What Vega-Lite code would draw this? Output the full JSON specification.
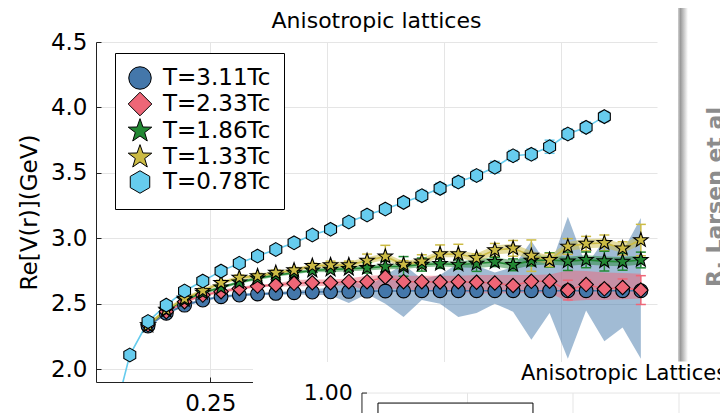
{
  "$schema": "https://vega.github.io/schema/vega-lite/v6.json",
  "width": 561,
  "height": 340,
  "autosize": {"type": "none"},
  "padding": {"left": 96, "top": 42, "right": 63, "bottom": 31},
  "background": "white",
  "config": {
    "view": {"stroke": null},
    "font": "DejaVu Sans",
    "axisX": {"labelFontSize": 23, "labelFont": "DejaVu Sans", "labelColor": "#000", "domainColor": "#222", "tickColor": "#222", "tickSize": -5, "labelPadding": 15, "gridColor": "#e5e5e5", "labelFlush": false},
    "axisY": {"labelFontSize": 23, "labelFont": "DejaVu Sans", "labelColor": "#000", "domainColor": "#222", "tickColor": "#222", "tickSize": -5, "labelPadding": 14, "gridColor": "#e5e5e5", "titleFontSize": 23, "titleFont": "DejaVu Sans", "titleFontWeight": "normal", "titleColor": "#000", "titlePadding": 9},
    "legend": {"labelFontSize": 23, "labelFont": "DejaVu Sans", "labelColor": "#000", "labelOffset": 11, "padding": 13, "rowPadding": -2, "strokeColor": "#000", "fillColor": "white", "cornerRadius": 0, "symbolSize": 506, "symbolStrokeColor": "#000", "symbolStrokeWidth": 1, "symbolOpacity": 1}
  },
  "datasets": {
    "d": [
      {"s":"T=3.11Tc","r":0.117,"v":2.33,"lo":2.32,"hi":2.34,"el":2.32,"eh":2.34},
      {"s":"T=3.11Tc","r":0.156,"v":2.428,"lo":2.418,"hi":2.438,"el":2.418,"eh":2.438},
      {"s":"T=3.11Tc","r":0.195,"v":2.49,"lo":2.48,"hi":2.5,"el":2.48,"eh":2.5},
      {"s":"T=3.11Tc","r":0.234,"v":2.529,"lo":2.519,"hi":2.539,"el":2.519,"eh":2.539},
      {"s":"T=3.11Tc","r":0.273,"v":2.554,"lo":2.544,"hi":2.564,"el":2.544,"eh":2.564},
      {"s":"T=3.11Tc","r":0.312,"v":2.567,"lo":2.557,"hi":2.577,"el":2.557,"eh":2.577},
      {"s":"T=3.11Tc","r":0.351,"v":2.575,"lo":2.565,"hi":2.585,"el":2.565,"eh":2.585},
      {"s":"T=3.11Tc","r":0.39,"v":2.58,"lo":2.57,"hi":2.59,"el":2.57,"eh":2.59},
      {"s":"T=3.11Tc","r":0.429,"v":2.585,"lo":2.57,"hi":2.6,"el":2.575,"eh":2.595},
      {"s":"T=3.11Tc","r":0.468,"v":2.59,"lo":2.57,"hi":2.61,"el":2.58,"eh":2.6},
      {"s":"T=3.11Tc","r":0.507,"v":2.592,"lo":2.565,"hi":2.625,"el":2.582,"eh":2.602},
      {"s":"T=3.11Tc","r":0.546,"v":2.595,"lo":2.506,"hi":2.69,"el":2.585,"eh":2.605},
      {"s":"T=3.11Tc","r":0.585,"v":2.597,"lo":2.575,"hi":2.625,"el":2.587,"eh":2.607},
      {"s":"T=3.11Tc","r":0.624,"v":2.598,"lo":2.5,"hi":2.72,"el":2.588,"eh":2.608},
      {"s":"T=3.11Tc","r":0.663,"v":2.598,"lo":2.4,"hi":2.8,"el":2.588,"eh":2.608},
      {"s":"T=3.11Tc","r":0.702,"v":2.6,"lo":2.53,"hi":2.69,"el":2.59,"eh":2.61},
      {"s":"T=3.11Tc","r":0.741,"v":2.6,"lo":2.5,"hi":2.72,"el":2.59,"eh":2.61},
      {"s":"T=3.11Tc","r":0.78,"v":2.6,"lo":2.4,"hi":2.81,"el":2.59,"eh":2.61},
      {"s":"T=3.11Tc","r":0.819,"v":2.6,"lo":2.43,"hi":2.79,"el":2.59,"eh":2.61},
      {"s":"T=3.11Tc","r":0.858,"v":2.6,"lo":2.5,"hi":2.74,"el":2.59,"eh":2.61},
      {"s":"T=3.11Tc","r":0.897,"v":2.6,"lo":2.44,"hi":2.78,"el":2.59,"eh":2.61},
      {"s":"T=3.11Tc","r":0.936,"v":2.6,"lo":2.225,"hi":2.98,"el":2.59,"eh":2.61},
      {"s":"T=3.11Tc","r":0.975,"v":2.6,"lo":2.43,"hi":2.77,"el":2.59,"eh":2.61},
      {"s":"T=3.11Tc","r":1.014,"v":2.6,"lo":2.08,"hi":3.165,"el":2.59,"eh":2.61},
      {"s":"T=3.11Tc","r":1.053,"v":2.6,"lo":2.45,"hi":2.79,"el":2.59,"eh":2.61},
      {"s":"T=3.11Tc","r":1.092,"v":2.6,"lo":2.215,"hi":2.99,"el":2.59,"eh":2.61},
      {"s":"T=3.11Tc","r":1.131,"v":2.6,"lo":2.32,"hi":2.9,"el":2.59,"eh":2.61},
      {"s":"T=3.11Tc","r":1.17,"v":2.6,"lo":2.08,"hi":3.155,"el":2.59,"eh":2.61},

      {"s":"T=2.33Tc","r":0.117,"v":2.34,"lo":2.33,"hi":2.35,"el":2.328,"eh":2.352},
      {"s":"T=2.33Tc","r":0.156,"v":2.44,"lo":2.428,"hi":2.452,"el":2.428,"eh":2.452},
      {"s":"T=2.33Tc","r":0.195,"v":2.516,"lo":2.504,"hi":2.528,"el":2.504,"eh":2.528},
      {"s":"T=2.33Tc","r":0.234,"v":2.567,"lo":2.555,"hi":2.579,"el":2.555,"eh":2.579},
      {"s":"T=2.33Tc","r":0.273,"v":2.593,"lo":2.581,"hi":2.605,"el":2.581,"eh":2.605},
      {"s":"T=2.33Tc","r":0.312,"v":2.618,"lo":2.606,"hi":2.63,"el":2.606,"eh":2.63},
      {"s":"T=2.33Tc","r":0.351,"v":2.636,"lo":2.624,"hi":2.648,"el":2.624,"eh":2.648},
      {"s":"T=2.33Tc","r":0.39,"v":2.644,"lo":2.632,"hi":2.656,"el":2.632,"eh":2.656},
      {"s":"T=2.33Tc","r":0.429,"v":2.657,"lo":2.632,"hi":2.682,"el":2.645,"eh":2.669},
      {"s":"T=2.33Tc","r":0.468,"v":2.661,"lo":2.636,"hi":2.686,"el":2.649,"eh":2.673},
      {"s":"T=2.33Tc","r":0.507,"v":2.661,"lo":2.636,"hi":2.686,"el":2.649,"eh":2.673},
      {"s":"T=2.33Tc","r":0.546,"v":2.669,"lo":2.644,"hi":2.694,"el":2.657,"eh":2.681},
      {"s":"T=2.33Tc","r":0.585,"v":2.669,"lo":2.6,"hi":2.715,"el":2.657,"eh":2.681},
      {"s":"T=2.33Tc","r":0.624,"v":2.705,"lo":2.62,"hi":2.72,"el":2.693,"eh":2.717},
      {"s":"T=2.33Tc","r":0.663,"v":2.669,"lo":2.61,"hi":2.715,"el":2.657,"eh":2.681},
      {"s":"T=2.33Tc","r":0.702,"v":2.669,"lo":2.6,"hi":2.715,"el":2.657,"eh":2.681},
      {"s":"T=2.33Tc","r":0.741,"v":2.667,"lo":2.6,"hi":2.715,"el":2.655,"eh":2.679},
      {"s":"T=2.33Tc","r":0.78,"v":2.669,"lo":2.59,"hi":2.715,"el":2.657,"eh":2.681},
      {"s":"T=2.33Tc","r":0.819,"v":2.665,"lo":2.58,"hi":2.72,"el":2.653,"eh":2.677},
      {"s":"T=2.33Tc","r":0.858,"v":2.659,"lo":2.58,"hi":2.72,"el":2.647,"eh":2.671},
      {"s":"T=2.33Tc","r":0.897,"v":2.64,"lo":2.58,"hi":2.72,"el":2.625,"eh":2.655},
      {"s":"T=2.33Tc","r":0.936,"v":2.672,"lo":2.585,"hi":2.72,"el":2.657,"eh":2.687},
      {"s":"T=2.33Tc","r":0.975,"v":2.673,"lo":2.58,"hi":2.725,"el":2.658,"eh":2.688},
      {"s":"T=2.33Tc","r":1.014,"v":2.605,"lo":2.52,"hi":2.755,"el":2.53,"eh":2.68},
      {"s":"T=2.33Tc","r":1.053,"v":2.647,"lo":2.53,"hi":2.75,"el":2.612,"eh":2.682},
      {"s":"T=2.33Tc","r":1.092,"v":2.615,"lo":2.53,"hi":2.74,"el":2.58,"eh":2.65},
      {"s":"T=2.33Tc","r":1.131,"v":2.625,"lo":2.535,"hi":2.735,"el":2.56,"eh":2.69},
      {"s":"T=2.33Tc","r":1.17,"v":2.605,"lo":2.54,"hi":2.73,"el":2.495,"eh":2.715},

      {"s":"T=1.86Tc","r":0.117,"v":2.335,"lo":2.323,"hi":2.347,"el":2.32,"eh":2.35},
      {"s":"T=1.86Tc","r":0.156,"v":2.45,"lo":2.438,"hi":2.462,"el":2.435,"eh":2.465},
      {"s":"T=1.86Tc","r":0.195,"v":2.53,"lo":2.518,"hi":2.542,"el":2.515,"eh":2.545},
      {"s":"T=1.86Tc","r":0.234,"v":2.585,"lo":2.573,"hi":2.597,"el":2.57,"eh":2.6},
      {"s":"T=1.86Tc","r":0.273,"v":2.625,"lo":2.613,"hi":2.637,"el":2.61,"eh":2.64},
      {"s":"T=1.86Tc","r":0.312,"v":2.665,"lo":2.653,"hi":2.677,"el":2.65,"eh":2.68},
      {"s":"T=1.86Tc","r":0.351,"v":2.695,"lo":2.683,"hi":2.707,"el":2.68,"eh":2.71},
      {"s":"T=1.86Tc","r":0.39,"v":2.718,"lo":2.706,"hi":2.73,"el":2.703,"eh":2.733},
      {"s":"T=1.86Tc","r":0.429,"v":2.738,"lo":2.726,"hi":2.75,"el":2.723,"eh":2.753},
      {"s":"T=1.86Tc","r":0.468,"v":2.755,"lo":2.743,"hi":2.767,"el":2.74,"eh":2.77},
      {"s":"T=1.86Tc","r":0.507,"v":2.762,"lo":2.742,"hi":2.782,"el":2.747,"eh":2.777},
      {"s":"T=1.86Tc","r":0.546,"v":2.768,"lo":2.748,"hi":2.788,"el":2.753,"eh":2.783},
      {"s":"T=1.86Tc","r":0.585,"v":2.775,"lo":2.755,"hi":2.795,"el":2.735,"eh":2.815},
      {"s":"T=1.86Tc","r":0.624,"v":2.785,"lo":2.765,"hi":2.805,"el":2.745,"eh":2.825},
      {"s":"T=1.86Tc","r":0.663,"v":2.786,"lo":2.766,"hi":2.806,"el":2.711,"eh":2.861},
      {"s":"T=1.86Tc","r":0.702,"v":2.8,"lo":2.78,"hi":2.82,"el":2.75,"eh":2.85},
      {"s":"T=1.86Tc","r":0.741,"v":2.806,"lo":2.786,"hi":2.826,"el":2.771,"eh":2.841},
      {"s":"T=1.86Tc","r":0.78,"v":2.8,"lo":2.78,"hi":2.82,"el":2.765,"eh":2.835},
      {"s":"T=1.86Tc","r":0.819,"v":2.808,"lo":2.773,"hi":2.843,"el":2.748,"eh":2.868},
      {"s":"T=1.86Tc","r":0.858,"v":2.82,"lo":2.785,"hi":2.855,"el":2.785,"eh":2.855},
      {"s":"T=1.86Tc","r":0.897,"v":2.798,"lo":2.763,"hi":2.833,"el":2.753,"eh":2.843},
      {"s":"T=1.86Tc","r":0.936,"v":2.83,"lo":2.795,"hi":2.865,"el":2.79,"eh":2.87},
      {"s":"T=1.86Tc","r":0.975,"v":2.835,"lo":2.8,"hi":2.87,"el":2.78,"eh":2.89},
      {"s":"T=1.86Tc","r":1.014,"v":2.825,"lo":2.79,"hi":2.86,"el":2.755,"eh":2.895},
      {"s":"T=1.86Tc","r":1.053,"v":2.836,"lo":2.801,"hi":2.871,"el":2.776,"eh":2.896},
      {"s":"T=1.86Tc","r":1.092,"v":2.826,"lo":2.791,"hi":2.861,"el":2.751,"eh":2.901},
      {"s":"T=1.86Tc","r":1.131,"v":2.822,"lo":2.787,"hi":2.857,"el":2.757,"eh":2.887},
      {"s":"T=1.86Tc","r":1.17,"v":2.835,"lo":2.8,"hi":2.87,"el":2.775,"eh":2.895},

      {"s":"T=1.33Tc","r":0.117,"v":2.338,"lo":2.323,"hi":2.353,"el":2.318,"eh":2.358},
      {"s":"T=1.33Tc","r":0.156,"v":2.455,"lo":2.44,"hi":2.47,"el":2.435,"eh":2.475},
      {"s":"T=1.33Tc","r":0.195,"v":2.54,"lo":2.525,"hi":2.555,"el":2.52,"eh":2.56},
      {"s":"T=1.33Tc","r":0.234,"v":2.6,"lo":2.585,"hi":2.615,"el":2.58,"eh":2.62},
      {"s":"T=1.33Tc","r":0.273,"v":2.66,"lo":2.645,"hi":2.675,"el":2.64,"eh":2.68},
      {"s":"T=1.33Tc","r":0.312,"v":2.7,"lo":2.685,"hi":2.715,"el":2.68,"eh":2.72},
      {"s":"T=1.33Tc","r":0.351,"v":2.712,"lo":2.697,"hi":2.727,"el":2.692,"eh":2.732},
      {"s":"T=1.33Tc","r":0.39,"v":2.738,"lo":2.723,"hi":2.753,"el":2.718,"eh":2.758},
      {"s":"T=1.33Tc","r":0.429,"v":2.757,"lo":2.742,"hi":2.772,"el":2.737,"eh":2.777},
      {"s":"T=1.33Tc","r":0.468,"v":2.79,"lo":2.775,"hi":2.805,"el":2.77,"eh":2.81},
      {"s":"T=1.33Tc","r":0.507,"v":2.796,"lo":2.771,"hi":2.821,"el":2.766,"eh":2.826},
      {"s":"T=1.33Tc","r":0.546,"v":2.796,"lo":2.771,"hi":2.821,"el":2.766,"eh":2.826},
      {"s":"T=1.33Tc","r":0.585,"v":2.83,"lo":2.805,"hi":2.855,"el":2.78,"eh":2.88},
      {"s":"T=1.33Tc","r":0.624,"v":2.862,"lo":2.837,"hi":2.887,"el":2.777,"eh":2.947},
      {"s":"T=1.33Tc","r":0.663,"v":2.8,"lo":2.775,"hi":2.825,"el":2.77,"eh":2.83},
      {"s":"T=1.33Tc","r":0.702,"v":2.825,"lo":2.8,"hi":2.85,"el":2.775,"eh":2.875},
      {"s":"T=1.33Tc","r":0.741,"v":2.88,"lo":2.855,"hi":2.905,"el":2.81,"eh":2.95},
      {"s":"T=1.33Tc","r":0.78,"v":2.88,"lo":2.855,"hi":2.905,"el":2.805,"eh":2.955},
      {"s":"T=1.33Tc","r":0.819,"v":2.85,"lo":2.815,"hi":2.885,"el":2.82,"eh":2.88},
      {"s":"T=1.33Tc","r":0.858,"v":2.911,"lo":2.876,"hi":2.946,"el":2.861,"eh":2.961},
      {"s":"T=1.33Tc","r":0.897,"v":2.924,"lo":2.889,"hi":2.959,"el":2.864,"eh":2.984},
      {"s":"T=1.33Tc","r":0.936,"v":2.868,"lo":2.833,"hi":2.903,"el":2.748,"eh":2.988},
      {"s":"T=1.33Tc","r":0.975,"v":2.835,"lo":2.8,"hi":2.87,"el":2.785,"eh":2.885},
      {"s":"T=1.33Tc","r":1.014,"v":2.938,"lo":2.903,"hi":2.973,"el":2.878,"eh":2.998},
      {"s":"T=1.33Tc","r":1.053,"v":2.96,"lo":2.925,"hi":2.995,"el":2.905,"eh":3.015},
      {"s":"T=1.33Tc","r":1.092,"v":2.965,"lo":2.93,"hi":3.0,"el":2.905,"eh":3.025},
      {"s":"T=1.33Tc","r":1.131,"v":2.924,"lo":2.889,"hi":2.959,"el":2.874,"eh":2.974},
      {"s":"T=1.33Tc","r":1.17,"v":2.987,"lo":2.952,"hi":3.022,"el":2.867,"eh":3.107},

      {"s":"T=0.78Tc","r":0.039,"v":1.56,"el":1.56,"eh":1.56},
      {"s":"T=0.78Tc","r":0.078,"v":2.109,"el":2.099,"eh":2.119},
      {"s":"T=0.78Tc","r":0.117,"v":2.365,"el":2.355,"eh":2.375},
      {"s":"T=0.78Tc","r":0.156,"v":2.49,"el":2.48,"eh":2.5},
      {"s":"T=0.78Tc","r":0.195,"v":2.598,"el":2.588,"eh":2.608},
      {"s":"T=0.78Tc","r":0.234,"v":2.674,"el":2.664,"eh":2.684},
      {"s":"T=0.78Tc","r":0.273,"v":2.75,"el":2.74,"eh":2.76},
      {"s":"T=0.78Tc","r":0.312,"v":2.81,"el":2.8,"eh":2.82},
      {"s":"T=0.78Tc","r":0.351,"v":2.865,"el":2.855,"eh":2.875},
      {"s":"T=0.78Tc","r":0.39,"v":2.915,"el":2.895,"eh":2.935},
      {"s":"T=0.78Tc","r":0.429,"v":2.966,"el":2.946,"eh":2.986},
      {"s":"T=0.78Tc","r":0.468,"v":3.026,"el":3.006,"eh":3.046},
      {"s":"T=0.78Tc","r":0.507,"v":3.069,"el":3.049,"eh":3.089},
      {"s":"T=0.78Tc","r":0.546,"v":3.125,"el":3.095,"eh":3.155},
      {"s":"T=0.78Tc","r":0.585,"v":3.178,"el":3.148,"eh":3.208},
      {"s":"T=0.78Tc","r":0.624,"v":3.224,"el":3.194,"eh":3.254},
      {"s":"T=0.78Tc","r":0.663,"v":3.275,"el":3.245,"eh":3.305},
      {"s":"T=0.78Tc","r":0.702,"v":3.326,"el":3.286,"eh":3.366},
      {"s":"T=0.78Tc","r":0.741,"v":3.382,"el":3.342,"eh":3.422},
      {"s":"T=0.78Tc","r":0.78,"v":3.43,"el":3.39,"eh":3.47},
      {"s":"T=0.78Tc","r":0.819,"v":3.48,"el":3.44,"eh":3.52},
      {"s":"T=0.78Tc","r":0.858,"v":3.543,"el":3.498,"eh":3.588},
      {"s":"T=0.78Tc","r":0.897,"v":3.631,"el":3.591,"eh":3.671},
      {"s":"T=0.78Tc","r":0.936,"v":3.642,"el":3.602,"eh":3.682},
      {"s":"T=0.78Tc","r":0.975,"v":3.7,"el":3.65,"eh":3.75},
      {"s":"T=0.78Tc","r":1.014,"v":3.797,"el":3.757,"eh":3.837},
      {"s":"T=0.78Tc","r":1.053,"v":3.848,"el":3.808,"eh":3.888},
      {"s":"T=0.78Tc","r":1.092,"v":3.93,"el":3.89,"eh":3.97}
    ]
  },
  "layer": [
    {
      "data": {"name": "d"},
      "transform": [{"filter": "datum.lo != null"}],
      "mark": {"type": "area", "opacity": 0.5, "clip": true},
      "encoding": {
        "x": {"field": "r", "type": "quantitative", "scale": {"domain": [0.0058, 1.2045], "nice": false, "zero": false}, "axis": {"values": [0.25, 0.5, 0.75, 1.0], "format": ".2f", "labelExpr": "datum.value == 0.25 ? datum.label : ''", "title": null, "grid": true}},
        "y": {"field": "lo", "type": "quantitative", "title": "Re[V(r)](GeV)", "scale": {"domain": [1.903, 4.5], "nice": false, "zero": false}, "axis": {"values": [2.0, 2.5, 3.0, 3.5, 4.0, 4.5], "format": ".1f", "title": "Re[V(r)](GeV)", "grid": true}},
        "y2": {"field": "hi"},
        "color": {"field": "s", "type": "nominal", "scale": {"range": ["#66CCEE", "#CCBB44", "#228833", "#EE6677", "#4477AA"]}, "legend": null}
      }
    },
    {
      "data": {"name": "d"},
      "mark": {"type": "line", "strokeWidth": 1.6, "clip": true},
      "encoding": {
        "x": {"field": "r", "type": "quantitative", "title": null},
        "y": {"field": "v", "type": "quantitative", "title": "Re[V(r)](GeV)"},
        "color": {"field": "s", "type": "nominal", "legend": null}
      }
    },
    {
      "data": {"name": "d"},
      "mark": {"type": "rule", "strokeWidth": 1.5, "clip": true},
      "encoding": {
        "x": {"field": "r", "type": "quantitative", "title": null},
        "y": {"field": "el", "type": "quantitative", "title": "Re[V(r)](GeV)"},
        "y2": {"field": "eh"},
        "color": {"field": "s", "type": "nominal", "legend": null}
      }
    },
    {
      "data": {"name": "d"},
      "mark": {"type": "tick", "orient": "horizontal", "size": 10, "thickness": 1.5, "opacity": 1, "clip": true},
      "encoding": {
        "x": {"field": "r", "type": "quantitative", "title": null},
        "y": {"field": "el", "type": "quantitative", "title": "Re[V(r)](GeV)"},
        "color": {"field": "s", "type": "nominal", "legend": null}
      }
    },
    {
      "data": {"name": "d"},
      "mark": {"type": "tick", "orient": "horizontal", "size": 10, "thickness": 1.5, "opacity": 1, "clip": true},
      "encoding": {
        "x": {"field": "r", "type": "quantitative", "title": null},
        "y": {"field": "eh", "type": "quantitative", "title": "Re[V(r)](GeV)"},
        "color": {"field": "s", "type": "nominal", "legend": null}
      }
    },
    {
      "data": {"name": "d"},
      "mark": {"type": "point", "filled": true, "size": 190, "stroke": "#000", "strokeWidth": 1.1, "opacity": 1, "clip": true},
      "encoding": {
        "x": {"field": "r", "type": "quantitative", "title": null},
        "y": {"field": "v", "type": "quantitative", "title": "Re[V(r)](GeV)"},
        "fill": {"field": "s", "type": "nominal", "scale": {"domain": ["T=3.11Tc", "T=2.33Tc", "T=1.86Tc", "T=1.33Tc", "T=0.78Tc"], "range": ["#4477AA", "#EE6677", "#228833", "#CCBB44", "#66CCEE"]}, "legend": {"title": null, "orient": "none", "legendX": 19, "legendY": 11, "symbolStrokeColor": "#000", "symbolStrokeWidth": 1, "encode": {"symbols": {"update": {"stroke": {"value": "#000"}, "strokeWidth": {"value": 1}}}}}},
        "shape": {"field": "s", "type": "nominal", "scale": {"domain": ["T=3.11Tc", "T=2.33Tc", "T=1.86Tc", "T=1.33Tc", "T=0.78Tc"], "range": ["circle", "M0,-1.05L1.05,0L0,1.05L-1.05,0Z", "M0,-1.1L0.259,-0.356L1.046,-0.34L0.418,0.136L0.647,0.89L0,0.44L-0.647,0.89L-0.418,0.136L-1.046,-0.34L-0.259,-0.356Z", "M0,-1.1L0.259,-0.356L1.046,-0.34L0.418,0.136L0.647,0.89L0,0.44L-0.647,0.89L-0.418,0.136L-1.046,-0.34L-0.259,-0.356Z", "M0,-1L0.866,-0.5L0.866,0.5L0,1L-0.866,0.5L-0.866,-0.5Z"]}, "legend": {"title": null, "orient": "none", "legendX": 19, "legendY": 11, "symbolStrokeColor": "#000", "symbolStrokeWidth": 1, "encode": {"symbols": {"update": {"stroke": {"value": "#000"}, "strokeWidth": {"value": 1}}}}}}
      }
    },
    {
      "data": {"values": [{"x": 0.3412, "x2": 1.45, "y": 2.055, "y2": 1.3}]},
      "mark": {"type": "rect", "fill": "white", "clip": false},
      "encoding": {
        "x": {"field": "x", "type": "quantitative", "title": null},
        "x2": {"field": "x2"},
        "y": {"field": "y", "type": "quantitative", "title": "Re[V(r)](GeV)"},
        "y2": {"field": "y2"}
      }
    },
    {
      "data": {"values": [
        {"x": 0.5741, "x2": 1.45, "y": 1.8186, "y2": 1.8186},
        {"x": 0.7996, "x2": 0.7996, "y": 1.8186, "y2": 1.3},
        {"x": 1.025, "x2": 1.025, "y": 1.8186, "y2": 1.3},
        {"x": 1.2515, "x2": 1.2515, "y": 1.8186, "y2": 1.3}
      ]},
      "mark": {"type": "rule", "color": "#e5e5e5", "strokeWidth": 1, "clip": false},
      "encoding": {
        "x": {"field": "x", "type": "quantitative", "title": null},
        "x2": {"field": "x2"},
        "y": {"field": "y", "type": "quantitative", "title": "Re[V(r)](GeV)"},
        "y2": {"field": "y2"}
      }
    },
    {
      "data": {"values": [
        {"x": 0.5741, "x2": 0.5741, "y": 1.8186, "y2": 1.3},
        {"x": 0.5741, "x2": 0.5848, "y": 1.8186, "y2": 1.8186}
      ]},
      "mark": {"type": "rule", "color": "#222", "strokeWidth": 1, "clip": false},
      "encoding": {
        "x": {"field": "x", "type": "quantitative", "title": null},
        "x2": {"field": "x2"},
        "y": {"field": "y", "type": "quantitative", "title": "Re[V(r)](GeV)"},
        "y2": {"field": "y2"}
      }
    },
    {
      "data": {"values": [{"x": 0.6083, "x2": 0.9395, "y": 1.7422, "y2": 1.3}]},
      "mark": {"type": "rect", "fill": "white", "stroke": "#000", "strokeWidth": 1, "clip": false},
      "encoding": {
        "x": {"field": "x", "type": "quantitative", "title": null},
        "x2": {"field": "x2"},
        "y": {"field": "y", "type": "quantitative", "title": "Re[V(r)](GeV)"},
        "y2": {"field": "y2"}
      }
    },
    {
      "data": {"values": [{"x": 1.134, "y": 1.9179, "t": "Anisotropic Lattices"}]},
      "mark": {"type": "text", "fontSize": 21, "font": "DejaVu Sans", "color": "#000", "align": "center", "baseline": "alphabetic", "clip": false},
      "encoding": {
        "x": {"field": "x", "type": "quantitative", "title": null},
        "y": {"field": "y", "type": "quantitative", "title": "Re[V(r)](GeV)"},
        "text": {"field": "t"}
      }
    },
    {
      "data": {"values": [{"x": 0.5543, "y": 1.8186, "t": "1.00"}]},
      "mark": {"type": "text", "fontSize": 22, "font": "DejaVu Sans", "color": "#000", "align": "right", "baseline": "middle", "clip": false},
      "encoding": {
        "x": {"field": "x", "type": "quantitative", "title": null},
        "y": {"field": "y", "type": "quantitative", "title": "Re[V(r)](GeV)"},
        "text": {"field": "t"}
      }
    },
    {
      "data": {"values": [{"x": 0.6052, "y": 4.607, "t": "Anisotropic lattices"}]},
      "mark": {"type": "text", "fontSize": 22, "font": "DejaVu Sans", "color": "#000", "align": "center", "baseline": "alphabetic", "clip": false},
      "encoding": {
        "x": {"field": "x", "type": "quantitative", "title": null},
        "y": {"field": "y", "type": "quantitative", "title": "Re[V(r)](GeV)"},
        "text": {"field": "t"}
      }
    },
    {
      "data": {"values": [{"x": 1.2494, "x2": 1.2707, "y": 4.76, "y2": 2.06}]},
      "mark": {"type": "rect", "clip": false, "fill": {"gradient": "linear", "x1": 0, "x2": 1, "y1": 0, "y2": 0, "stops": [{"offset": 0, "color": "#cfcfcf"}, {"offset": 0.25, "color": "#9a9a9a"}, {"offset": 1, "color": "#ffffff"}]}},
      "encoding": {
        "x": {"field": "x", "type": "quantitative", "title": null},
        "x2": {"field": "x2"},
        "y": {"field": "y", "type": "quantitative", "title": "Re[V(r)](GeV)"},
        "y2": {"field": "y2"}
      }
    },
    {
      "data": {"values": [{"x": 1.307, "y": 3.316, "t": "R. Larsen et al"}]},
      "mark": {"type": "text", "fontSize": 22, "font": "DejaVu Sans", "fontWeight": "bold", "color": "#8c8c8c", "angle": 270, "align": "center", "baseline": "top", "clip": false},
      "encoding": {
        "x": {"field": "x", "type": "quantitative", "title": null},
        "y": {"field": "y", "type": "quantitative", "title": "Re[V(r)](GeV)"},
        "text": {"field": "t"}
      }
    }
  ]
}
